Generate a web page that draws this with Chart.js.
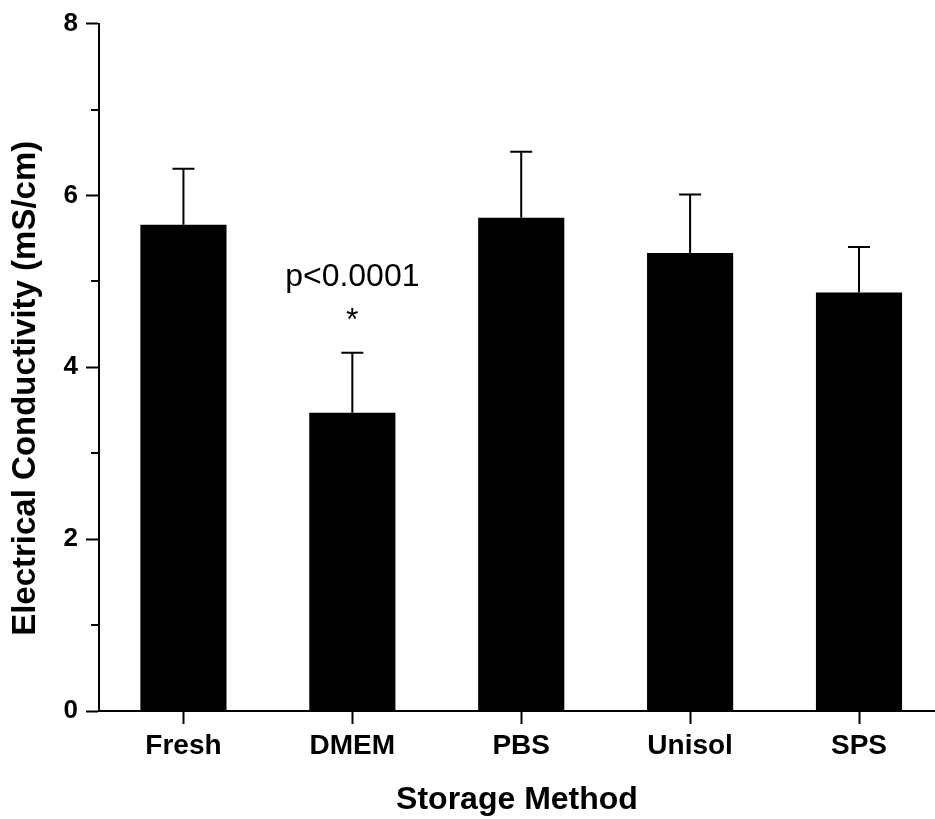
<!DOCTYPE html>
<html>
<head>
<meta charset="utf-8">
<script src="https://cdn.jsdelivr.net/npm/chart.js@4"></script>
<style>
  html, body { margin: 0; padding: 0; background: #fff; }
  canvas { display: block; }
</style>
</head>
<body>
<canvas id="c" width="935" height="819"></canvas>
<script>
const categories = ['Fresh', 'DMEM', 'PBS', 'Unisol', 'SPS']
const means = [5.66, 3.47, 5.74, 5.33, 4.87]
const errors = [0.65, 0.70, 0.77, 0.68, 0.53]
const yLabelValues = [0, 2, 4, 6, 8]
const yTitle = 'Electrical Conductivity (mS/cm)'
const annotationText = ['p<0.0001', '*']
const annotatedIndex = 1

const FONT = "'Liberation Sans', Arial, Helvetica, sans-serif"

// error bars (upper only), minor y ticks, y title and significance text
const extras = {
  id: 'extras',
  afterDatasetsDraw(chart) {
    const { ctx } = chart
    const y = chart.scales.y
    const meta = chart.getDatasetMeta(0)
    ctx.save()
    ctx.strokeStyle = '#000'
    ctx.lineWidth = 2
    meta.data.forEach((bar, i) => {
      const top = y.getPixelForValue(means[i] + errors[i])
      ctx.beginPath()
      ctx.moveTo(bar.x, bar.y)
      ctx.lineTo(bar.x, top)
      ctx.moveTo(bar.x - 11, top)
      ctx.lineTo(bar.x + 11, top)
      ctx.stroke()
    })
    // minor ticks on odd values
    const left = chart.chartArea.left
    for (let v = 1; v < 8; v += 2) {
      const py = Math.round(y.getPixelForValue(v))
      ctx.beginPath()
      ctx.moveTo(left - 8, py)
      ctx.lineTo(left, py)
      ctx.stroke()
    }
    ctx.fillStyle = '#000'
    ctx.textAlign = 'center'
    // y axis title, a bit below the chart-area centre like the original
    ctx.save()
    ctx.translate(26, (chart.chartArea.top + chart.chartArea.bottom) / 2 + 21)
    ctx.rotate(-Math.PI / 2)
    ctx.textBaseline = 'middle'
    ctx.font = `bold 33px ${FONT}`
    ctx.fillText(yTitle, 0, 0)
    ctx.restore()
    // p-value annotation
    const b = meta.data[annotatedIndex]
    const top = y.getPixelForValue(means[annotatedIndex] + errors[annotatedIndex])
    ctx.textBaseline = 'alphabetic'
    ctx.font = `normal 32px ${FONT}`
    ctx.fillText(annotationText[0], b.x, top - 67)
    ctx.fillText(annotationText[1], b.x, top - 23)
    ctx.restore()
  }
}

new Chart(document.getElementById('c').getContext('2d'), {
  type: 'bar',
  data: {
    datasets: [{
      data: means.map((m, i) => ({ x: i, y: m })),
      backgroundColor: '#000',
      borderWidth: 0,
      barPercentage: 0.51,
      categoryPercentage: 1,
    }]
  },
  options: {
    responsive: false,
    animation: false,
    layout: { padding: { top: 23, right: 0, left: 0, bottom: 0 } },
    plugins: { legend: { display: false }, tooltip: { enabled: false } },
    scales: {
      x: {
        type: 'linear',
        offset: false,
        min: -0.5,
        max: 4.45,
        afterBuildTicks: s => {
          s.ticks = categories.map((_, i) => ({ value: i }))
        },
        afterFit: s => { s.height = 108 },
        ticks: {
          stepSize: 1,
          autoSkip: false,
          maxRotation: 0,
          padding: 5,
          color: '#000',
          font: { family: FONT, size: 28, weight: 'bold' },
          callback: v => categories[v] ?? '',
        },
        grid: { offset: false, drawOnChartArea: false, drawTicks: true, tickLength: 13, tickWidth: 2, tickColor: '#000' },
        border: { display: true, color: '#000', width: 2 },
        title: {
          display: true,
          text: 'Storage Method',
          color: '#000',
          font: { family: FONT, size: 32, weight: 'bold' },
          padding: { top: 22, bottom: 0 },
        },
      },
      y: {
        min: 0,
        max: 8,
        afterFit: s => { s.width = 99 },
        ticks: {
          stepSize: 1,
          padding: 8,
          color: '#000',
          font: { family: FONT, size: 26, weight: 'bold' },
          callback: v => yLabelValues.includes(v) ? v : '',
        },
        grid: {
          drawOnChartArea: false,
          drawTicks: true,
          tickLength: 13,
          tickWidth: 2,
          tickColor: ctx => yLabelValues.includes(ctx.tick.value) ? '#000' : 'rgba(0,0,0,0)',
        },
        border: { display: true, color: '#000', width: 2 },
        title: { display: false },
      },
    },
  },
  plugins: [extras],
})
</script>
</body>
</html>
